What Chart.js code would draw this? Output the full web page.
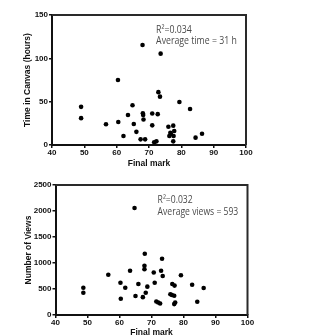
<!DOCTYPE html>
<html>
<head>
<meta charset="utf-8">
<script src="https://cdn.jsdelivr.net/npm/chart.js@4.4.1/dist/chart.umd.min.js"></script>
<style>
  html, body { margin: 0; padding: 0; background: #fff; }
  #wrap { position: relative; width: 327px; height: 335px; overflow: hidden; background:#fff; }
  .cv { position: absolute; left: 0; }
  .lbl { position: absolute; left: -4px; font: 12px "Liberation Serif", serif; color: #000; }
</style>
</head>
<body>
<div id="wrap">
  <div class="cv" style="top:0;width:327px;height:170px;"><canvas id="c1"></canvas></div>
  <div class="cv" style="top:170px;width:327px;height:165px;"><canvas id="c2"></canvas></div>
  <div class="lbl" style="top:7px;">)</div>
  <div class="lbl" style="top:177px;">)</div>
</div>
<script>
// ---------- Data ----------
const marksA = [49, 49, 56.7, 60.4, 60.5, 62.1, 64.9, 63.5, 65.3, 66.1, 67.4, 68.8, 68, 68.1, 68.2, 68.3, 71, 71, 71.6, 72.3, 72.7, 72.9, 73.4, 73.6, 76, 77.5, 77.8, 76.6, 76.8, 76.3, 77.6, 77.5, 79.4, 82.7, 84.4, 86.4];
const hoursA = [44, 31, 24, 75, 26.5, 10.4, 45.8, 34.6, 24.3, 15.2, 6.5, 6.5, 115.4, 36.5, 34.6, 29.4, 36.3, 22.7, 3.1, 4.2, 35.6, 61, 55.8, 105.4, 21, 22.3, 16.2, 14.2, 12.7, 10.4, 10.4, 4.2, 49.6, 41.5, 8.5, 13];

const marksB = [48.7, 48.7, 56.5, 60.3, 60.4, 61.8, 63.3, 64.7, 65, 65.9, 67.3, 67.9, 67.8, 67.8, 68.2, 68.7, 70.7, 71, 71.5, 72.1, 72.7, 73, 73.3, 73.5, 75.9, 76.4, 77.1, 76.5, 77.2, 77.4, 77.1, 79.2, 82.7, 84.3, 86.3];
const viewsB = [525, 429, 775, 621, 313, 525, 852, 2058, 365, 596, 343, 1179, 945, 879, 429, 545, 818, 621, 260, 240, 220, 850, 1083, 750, 400, 385, 370, 596, 565, 240, 210, 763, 583, 256, 519];

const xTicks = [40, 50, 60, 70, 80, 90, 100];
const yTicksA = [0, 50, 100, 150];
const yTicksB = [0, 500, 1000, 1500, 2000, 2500];

const titleX = "Final mark";
const titleYA = "Time in Canvas (hours)";
const titleYB = "Number of Views";
const noteA = ["R\u00B2=0.034", "Average time = 31 h"];
const noteB = ["R\u00B2=0.032", "Average views = 593"];

// ---------- Helpers ----------
const tickFont = { family: "Arial, 'Liberation Sans', sans-serif", size: 8, weight: 'bold' };
const titleFont = { family: "Arial, 'Liberation Sans', sans-serif", size: 8.5, weight: 'bold' };

const framePlugin = {
  id: 'frame',
  afterDraw(chart) {
    const a = chart.chartArea, ctx = chart.ctx;
    ctx.save();
    ctx.strokeStyle = '#2a2a2a';
    ctx.lineWidth = 2;
    ctx.beginPath();
    ctx.moveTo(a.left, a.top); ctx.lineTo(a.right, a.top); ctx.lineTo(a.right, a.bottom);
    ctx.stroke();
    const o = chart.options.plugins.frame;
    if (o && o.lines) {
      const xs = chart.scales.x, ys = chart.scales.y;
      ctx.fillStyle = '#4a4a4a';
      ctx.font = o.font;
      ctx.textBaseline = 'middle';
      ctx.textAlign = 'left';
      const w = ctx.measureText(o.lines[1]).width;
      const k = o.width / w;
      o.lines.forEach((t, i) => {
        const px = xs.getPixelForValue(o.x), py = ys.getPixelForValue(o.ys[i]);
        ctx.save();
        ctx.translate(px, py);
        ctx.scale(k, 1);
        ctx.fillText(t, 0, 0);
        ctx.restore();
      });
    }
    ctx.restore();
  }
};

function makeChart(id, xs, ys, yTicks, yMax, yTitle, yWidth, xHeight, pad, note, xTitlePadBottom, yTitlePadTop) {
  const pts = xs.map((v, i) => ({ x: v, y: ys[i] }));
  return new Chart(document.getElementById(id), {
    type: 'scatter',
    data: { datasets: [{ data: pts, backgroundColor: '#000', borderWidth: 0, pointRadius: 2.3, pointHoverRadius: 2.3 }] },
    options: {
      responsive: true, maintainAspectRatio: false, animation: false,
      layout: { padding: pad },
      plugins: { legend: { display: false }, tooltip: { enabled: false }, frame: note },
      scales: {
        x: {
          type: 'linear', min: xTicks[0], max: xTicks[xTicks.length - 1],
          afterBuildTicks: s => { s.ticks = xTicks.map(v => ({ value: v })); },
          afterFit: s => { s.height = xHeight; },
          ticks: { font: tickFont, color: '#111', padding: 0, maxRotation: 0, callback: v => String(v) },
          grid: { display: true, drawOnChartArea: false, drawTicks: true, tickLength: 3, color: '#111', lineWidth: 1.5 },
          border: { display: true, color: '#111', width: 2 },
          title: { display: true, text: titleX, font: titleFont, color: '#111', padding: { top: 0, bottom: xTitlePadBottom } }
        },
        y: {
          type: 'linear', min: 0, max: yMax,
          afterBuildTicks: s => { s.ticks = yTicks.map(v => ({ value: v })); },
          afterFit: s => { s.width = yWidth; },
          ticks: { font: tickFont, color: '#111', padding: 1, callback: v => String(v) },
          grid: { display: true, drawOnChartArea: false, drawTicks: true, tickLength: 3, color: '#111', lineWidth: 1.5 },
          border: { display: true, color: '#111', width: 2 },
          title: { display: true, text: yTitle, font: titleFont, color: '#111', padding: { top: yTitlePadTop, bottom: 0 } }
        }
      }
    },
    plugins: [framePlugin]
  });
}

const noteFont = "11px 'Open Sans', 'Liberation Sans', sans-serif";
makeChart('c1', marksA, hoursA, yTicksA, 150, titleYA, 52, 25, { top: 15, right: 81, left: 0, bottom: 0 },
  { lines: noteA, x: 72.2, ys: [132.7, 120], width: 80.7, font: noteFont }, 1, 23);
makeChart('c2', marksB, viewsB, yTicksB, 2500, titleYB, 55.5, 20, { top: 15, right: 79.5, left: 0, bottom: 0 },
  { lines: noteB, x: 71.9, ys: [2211, 1975], width: 80.7, font: noteFont }, -3, 24);
</script>
</body>
</html>
